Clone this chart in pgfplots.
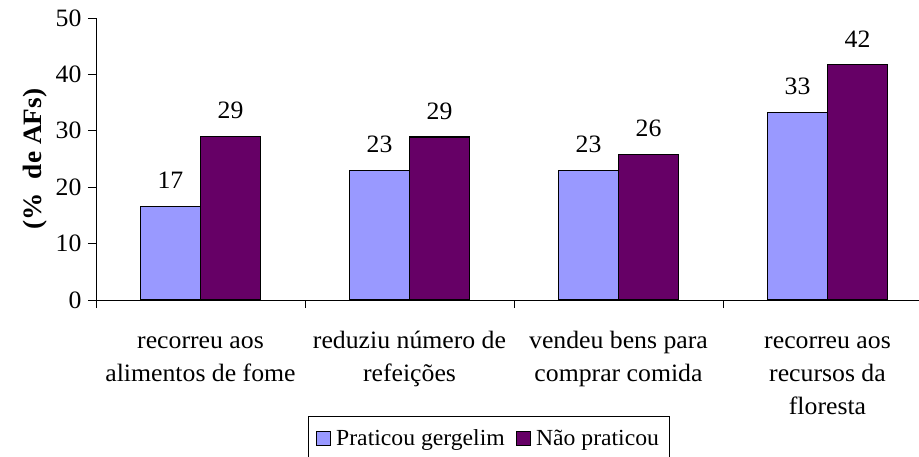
\documentclass[border=0pt]{standalone}
\usepackage{pgfplots}
\pgfplotsset{compat=1.18}
\usepackage{fontspec}
\setmainfont{Liberation Serif}[FakeStretch=1.03]
\definecolor{lightbar}{HTML}{9999FF}
\definecolor{darkbar}{HTML}{660066}
\begin{document}
\begin{tikzpicture}
\begin{axis}[
  at={(96pt,-300pt)}, anchor=south west,
  scale only axis, width=836pt, height=282pt,
  font=\fontsize{25}{33}\selectfont,
  /pgf/number format/assume math mode=true,
  ybar=0pt, bar width=60pt,
  xmin=-0.5, xmax=3.5, ymin=0, ymax=50,
  axis x line*=bottom, axis y line*=left,
  axis line style={line width=0.8pt},
  ytick={0,10,20,30,40,50},
  yticklabel style={xshift=-3pt},
  xtick={-0.5,0.5,1.5,2.5,3.5}, xticklabels={},
  extra x ticks={0,1,2,3},
  extra x tick labels={{\strut recorreu aos\\alimentos de fome},{\strut reduziu número de\\refeições},{\strut vendeu bens para\\comprar comida},{\strut recorreu aos\\recursos da\\floresta}},
  extra x tick style={major tick length=0pt, xticklabel style={align=center, yshift=-22pt}},
  tick align=outside, major tick length=8pt,
  tick style={line width=0.8pt, black},
  ylabel={\fontsize{26.5}{30}\selectfont\bfseries (\%\ \ de AFs)},
  ylabel style={at={(axis description cs:-0.073,0.5)}, anchor=center, rotate=0},
  nodes near coords,
  nodes near coords style={/pgf/number format/fixed, /pgf/number format/precision=0, anchor=south, inner sep=2pt, yshift=15pt, black},
  legend columns=2,
  legend style={at={(axis description cs:0.4695,-0.413)}, anchor=north, draw=black, line width=0.8pt,
    font=\fontsize{23}{28}\selectfont, inner xsep=8pt, inner ysep=11pt,
    /tikz/every even column/.append style={column sep=9pt}},
  legend image code/.code={\draw[#1, draw=black, line width=1.1pt] (0pt,-7pt) rectangle (14pt,7pt); \path (17pt,0pt);},
]
\addplot[fill=lightbar, draw=black, line width=1.3pt] coordinates {(0,16.6) (1,22.9) (2,22.9) (3,33.2)};
\addplot[fill=darkbar, draw=black, line width=1.3pt] coordinates {(0,29.0) (1,28.9) (2,25.8) (3,41.7)};
\legend{Praticou gergelim, Não praticou}
\end{axis}
\pgfresetboundingbox
\useasboundingbox (0pt,0pt) rectangle (919pt,-457pt);
\end{tikzpicture}
\end{document}
